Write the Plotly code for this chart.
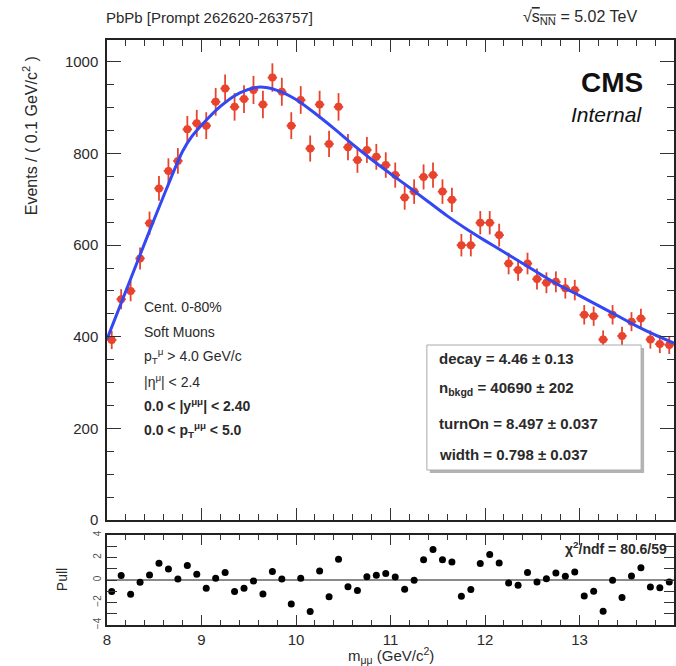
import numpy as np
import plotly.graph_objects as go

# ---- data: dimuon mass spectrum, 0.1 GeV bins from 8 to 14 GeV ----
mass_centers = np.round(np.arange(8.05, 14.0, 0.1), 2)
counts = [393, 482, 500, 571, 648, 724, 762, 784, 853, 866,
          861, 913, 942, 902, 919, 939, 907, 966, 935, 861,
          917, 811, 907, 821, 902, 814, 786, 808, 793, 775,
          753, 704, 717, 749, 753, 717, 699, 600, 600, 649,
          649, 622, 560, 546, 560, 526, 518, 520, 506, 502,
          448, 445, 394, 448, 402, 433, 440, 394, 384, 382]
count_err = np.sqrt(counts)  # Poisson uncertainties
bin_half_width = 0.05

# background fit (ErfExp) sampled along the mass axis
fit_mass = [8.0, 8.2, 8.4, 8.6, 8.8, 8.9, 9.0, 9.2, 9.4, 9.6, 9.8, 10.0,
            10.2, 10.4, 10.6, 10.8, 11.0, 11.2, 11.4, 11.6, 11.8, 12.0,
            12.2, 12.4, 12.6, 12.8, 13.0, 13.2, 13.4, 13.6, 13.8, 14.0]
fit_vals = [395, 500, 605, 708, 805, 838, 862, 903, 932, 945, 938, 918,
            888, 855, 820, 787, 756, 726, 695, 664, 636, 610,
            585, 560, 535, 511, 490, 468, 446, 424, 404, 386]

pulls = [-1.03, 0.39, -1.27, -0.20, 0.44, 1.48, 0.98, 0.09, 1.28, 0.51,
         -0.74, 0.15, 0.66, -1.03, -0.74, -0.09, -1.24, 0.75, 0.09, -2.13,
         0.15, -2.81, 0.80, -1.48, 1.84, -0.60, -0.93, 0.28, 0.43, 0.58,
         0.27, -0.83, -0.03, 1.81, 2.70, 1.81, 1.60, -1.45, -0.85, 1.46,
         2.26, 1.51, -0.27, -0.47, 0.66, -0.18, 0.12, 0.62, 0.33, 0.71,
         -1.42, -1.00, -2.78, -0.03, -1.56, 0.36, 1.10, -0.62, -0.68, -0.18]

fit_params = [
    "decay = 4.46 \u00b1 0.13",
    "n<sub>bkgd</sub> = 40690 \u00b1 202",
    "turnOn = 8.497 \u00b1 0.037",
    "width = 0.798 \u00b1 0.037",
]
cut_lines = [
    ("Cent. 0-80%", False),
    ("Soft Muons", False),
    ("p<sub>T</sub><sup>\u03bc</sup> > 4.0 GeV/c", False),
    ("|\u03b7<sup>\u03bc</sup>| < 2.4", False),
    ("0.0 < |y<sup>\u03bc\u03bc</sup>| < 2.40", True),
    ("0.0 < p<sub>T</sub><sup>\u03bc\u03bc</sup> < 5.0", True),
]

# ---- canvas geometry ----
W, H = 676, 666
ML, MR, MT, MB = 107, 0, 40, 41
PW, PH = W - ML - MR, H - MT - MB


def px(x):
    return (x - ML) / PW


def py(y):
    return (H - MB - y) / PH


FONT = "Liberation Sans, Arial, sans-serif"
TXT = "#2a2a2a"
RED = "#e8432c"
BLUE = "#3347f2"

fig = go.Figure()

# data points
fig.add_trace(go.Scatter(
    x=mass_centers, y=counts, mode="markers",
    marker=dict(color=RED, size=8),
    error_y=dict(type="data", array=count_err, color=RED, thickness=1.8, width=0),
    error_x=dict(type="constant", value=bin_half_width, color=RED, thickness=1.8, width=0),
    xaxis="x", yaxis="y", showlegend=False,
))
# fit curve
fig.add_trace(go.Scatter(
    x=fit_mass, y=fit_vals, mode="lines",
    line=dict(color=BLUE, width=3, shape="spline", smoothing=0.8),
    xaxis="x", yaxis="y", showlegend=False,
))
# pull panel zero line
fig.add_trace(go.Scatter(
    x=[8, 14], y=[0, 0], mode="lines",
    line=dict(color="#8a8a8a", width=2),
    xaxis="x2", yaxis="y2", showlegend=False,
))
# pulls
fig.add_trace(go.Scatter(
    x=mass_centers, y=pulls, mode="markers",
    marker=dict(color="black", size=7),
    xaxis="x2", yaxis="y2", showlegend=False,
))

axis_common = dict(
    showline=True, linecolor="#222", linewidth=1.5, mirror="allticks",
    ticks="inside", tickcolor="#333", showgrid=False, zeroline=False,
    tickfont=dict(family=FONT, size=15, color=TXT),
)

main_bottom = py(520)
pull_top = py(535)

fig.update_layout(
    width=W, height=H,
    margin=dict(l=ML, r=MR, t=MT, b=MB),
    paper_bgcolor="white", plot_bgcolor="white",
    xaxis=dict(domain=[0, 1], range=[8, 14], anchor="y", dtick=1, ticklen=12,
               showticklabels=False,
               minor=dict(dtick=0.2, ticklen=6, ticks="inside", tickcolor="#333"),
               **axis_common),
    yaxis=dict(domain=[main_bottom, 1], range=[0, 1048], anchor="x", dtick=200, ticklen=14,
               ticklabelstandoff=4,
               minor=dict(dtick=50, ticklen=7, ticks="inside", tickcolor="#333"),
               **axis_common),
    xaxis2=dict(domain=[0, 1], range=[8, 14], anchor="y2", dtick=1, ticklen=10,
                minor=dict(dtick=0.2, ticklen=5, ticks="inside", tickcolor="#333"),
                **axis_common),
    yaxis2=dict(domain=[0, pull_top], range=[-4, 4], anchor="x2",
                tickvals=[-4, -2, 0, 2, 4], ticklen=10, tickangle=-90,
                minor=dict(dtick=1, ticklen=10, ticks="inside", tickcolor="#333"),
                **axis_common),
)
fig.update_layout(yaxis2_tickfont=dict(family=FONT, size=10, color="#555"))

ann = []


def text(x, y, s, size=11, xanchor="left", yanchor="middle", bold=False,
         italic=False, angle=0, color=TXT):
    if bold:
        s = f"<b>{s}</b>"
    if italic:
        s = f"<i>{s}</i>"
    ann.append(dict(x=px(x), y=py(y), xref="paper", yref="paper", text=s,
                    showarrow=False, xanchor=xanchor, yanchor=yanchor,
                    textangle=angle,
                    font=dict(family=FONT, size=size, color=color)))


# header
text(104, 18, "PbPb [Prompt 262620-263757]", size=15)
text(522, 18, "\u221a<span style='text-decoration:overline'>s<sub>NN</sub></span> = 5.02 TeV", size=16)

# experiment label
text(647, 83, "CMS", size=28, xanchor="right", bold=True, color="#111")
text(646, 114, "Internal", size=21, xanchor="right", italic=True, color="#111")

# selection cuts
for k, (line, b) in enumerate(cut_lines):
    text(142, 307 + 24.6 * k, line, size=14, bold=b)

# fit parameter box with drop shadow
fig.add_shape(type="rect", xref="paper", yref="paper",
              x0=px(431), x1=px(646), y0=py(473), y1=py(348),
              line=dict(width=0), fillcolor="#b4b4b4", layer="above")
fig.add_shape(type="rect", xref="paper", yref="paper",
              x0=px(428), x1=px(643), y0=py(470), y1=py(345),
              line=dict(color="#aaaaaa", width=1), fillcolor="white", layer="above")
for s, yy in zip(fit_params, [358, 388, 423, 455]):
    text(438, yy, s, size=15, bold=True)

# pull panel fit quality
text(671, 548, "\u03c7<sup>2</sup>/ndf = 80.6/59", size=14, xanchor="right", bold=True)

# axis titles
text(30, 136, "Events / ( 0.1 GeV/c<sup>2</sup> )", size=16, xanchor="center",
     angle=-90)
text(62, 580, "Pull", size=14, xanchor="center", angle=-90)
text(392, 655, "m<sub>\u03bc\u03bc</sub> (GeV/c<sup>2</sup>)", size=15, xanchor="center")

fig.update_layout(annotations=ann)

fig.write_html("out.html")
